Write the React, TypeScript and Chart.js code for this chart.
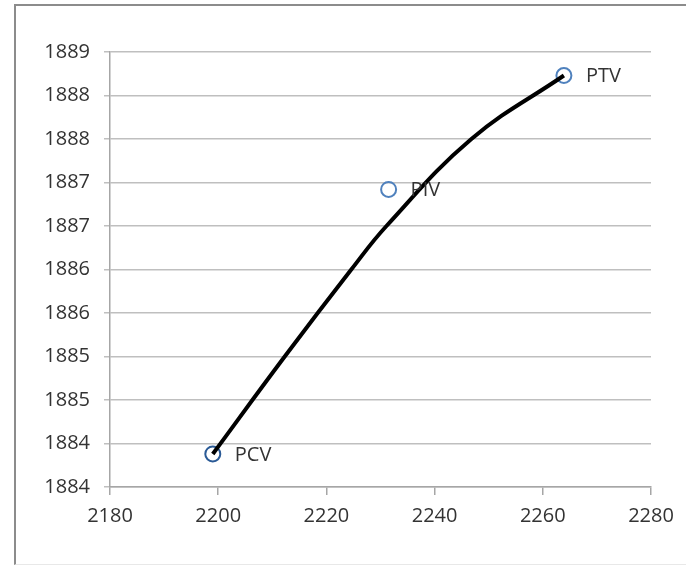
import React, { useEffect, useRef } from "react";
import { Chart, registerables } from "chart.js";

Chart.register(...registerables);

// Point series (scatter markers)
const pointNames = ["PCV", "PIV", "PTV"];
const pointX = [2199.0, 2231.5, 2263.9];
const pointY = [1883.88, 1886.92, 1888.23];

// Black curve
const curveX = [2199.0, 2212.3, 2224.6, 2231.1, 2246.8, 2263.9];
const curveY = [1883.88, 1885.0, 1886.0, 1886.5, 1887.5, 1888.23];

// Axis ticks
const xTickValues = [2180, 2200, 2220, 2240, 2260, 2280];
const xTickLabels = ["2180", "2200", "2220", "2240", "2260", "2280"];
const yTickValues = [1883.5, 1884, 1884.5, 1885, 1885.5, 1886, 1886.5, 1887, 1887.5, 1888, 1888.5];
const yTickLabels = ["1884", "1884", "1885", "1885", "1886", "1886", "1887", "1887", "1888", "1888", "1889"];

const FONT = "'Open Sans', Lato, sans-serif";
const FONT_SIZE = 20;
const TEXT_COLOR = "#333333";

const pointLabelPlugin = {
  id: "pointLabels",
  afterDatasetsDraw(chart: any) {
    const meta = chart.getDatasetMeta(1);
    const ctx = chart.ctx;
    ctx.save();
    ctx.font = `${FONT_SIZE}px ${FONT}`;
    ctx.fillStyle = TEXT_COLOR;
    ctx.textAlign = "left";
    ctx.textBaseline = "middle";
    meta.data.forEach((el: any, i: number) => {
      ctx.fillText(pointNames[i], el.x + 22, el.y + 1);
    });
    ctx.restore();
  },
};

export default function App() {
  const ref = useRef<HTMLCanvasElement>(null);

  useEffect(() => {
    if (!ref.current) return;
    const chart = new Chart(ref.current, {
      type: "scatter",
      data: {
        datasets: [
          {
            type: "line",
            label: "curve",
            data: curveX.map((x, i) => ({ x, y: curveY[i] })),
            borderColor: "#000000",
            borderWidth: 4,
            pointRadius: 0,
            fill: false,
            tension: 0.4,
            order: 0,
          } as any,
          {
            label: "points",
            data: pointX.map((x, i) => ({ x, y: pointY[i] })),
            pointRadius: 7.5,
            pointBorderWidth: 2,
            pointBackgroundColor: "rgba(255,255,255,0)",
            pointBorderColor: ["#2A5A96", "#4F81BD", "#4F81BD"],
            showLine: false,
            order: 1,
          },
        ],
      },
      options: {
        responsive: false,
        animation: false,
        layout: { padding: { left: 0, top: 52, right: 35, bottom: 20 } },
        plugins: {
          legend: { display: false },
          tooltip: { enabled: false },
          title: { display: false },
        },
        scales: {
          x: {
            type: "linear",
            min: 2180,
            max: 2280,
            afterBuildTicks: (scale: any) => {
              scale.ticks = xTickValues.map((v) => ({ value: v }));
            },
            afterFit: (scale: any) => {
              scale.height = 566 - 487 - 20;
            },
            ticks: {
              callback: (_v: any, i: number) => xTickLabels[i],
              font: { family: FONT, size: FONT_SIZE },
              color: TEXT_COLOR,
              padding: 9,
              maxRotation: 0,
            },
            grid: {
              drawOnChartArea: false,
              drawTicks: true,
              tickLength: 8,
              color: "#a6a6a6",
              lineWidth: 1.5,
            },
            border: { display: true, color: "#a6a6a6", width: 1.5 },
          },
          y: {
            type: "linear",
            min: 1883.5,
            max: 1888.5,
            afterBuildTicks: (scale: any) => {
              scale.ticks = yTickValues.map((v) => ({ value: v }));
            },
            afterFit: (scale: any) => {
              scale.width = 110;
            },
            ticks: {
              callback: (_v: any, i: number) => yTickLabels[i],
              font: { family: FONT, size: FONT_SIZE },
              color: TEXT_COLOR,
              padding: 14,
            },
            grid: {
              drawOnChartArea: true,
              drawTicks: true,
              tickLength: 6,
              color: "#bfbfbf",
              lineWidth: 1.5,
            },
            border: { display: true, color: "#a6a6a6", width: 1.5 },
          },
        },
      },
      plugins: [pointLabelPlugin],
    } as any);
    return () => chart.destroy();
  }, []);

  return (
    <div
      style={{
        position: "fixed",
        left: 0,
        top: 0,
        width: 686,
        height: 566,
        background: "#ffffff",
        overflow: "hidden",
      }}
    >
      <div
        style={{
          position: "absolute",
          left: 14,
          top: 4,
          width: 700,
          height: 558,
          borderLeft: "2px solid #8c8c8c",
          borderTop: "2px solid #8c8c8c",
          borderBottom: "1px solid #e8e8e8",
        }}
      />
      <canvas
        ref={ref}
        width={686}
        height={566}
        style={{ position: "absolute", left: 0, top: 0, width: 686, height: 566 }}
      />
    </div>
  );
}
